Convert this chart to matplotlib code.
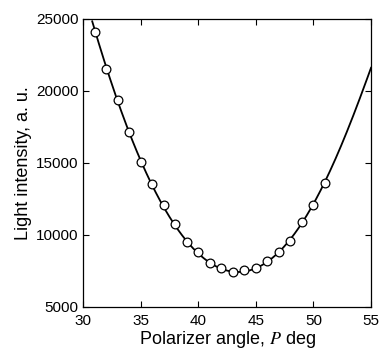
import numpy as np
import matplotlib
matplotlib.use("Agg")
import matplotlib.pyplot as plt

plt.rcParams['font.family'] = ['Liberation Sans', 'DejaVu Sans']
plt.rcParams['mathtext.fontset'] = 'stix'

# measured points
angle = [31, 32, 33, 34, 35, 36, 37, 38, 39, 40, 41, 42, 43, 44, 45, 46, 47, 48, 49, 50, 51]
intensity = [24100, 21530, 19380, 17130, 15090, 13520, 12080, 10770, 9490, 8800, 8080,
             7690, 7450, 7550, 7690, 8200, 8840, 9590, 10880, 12080, 13590]

# fitted curve
curve_angle = [30.8, 31, 33, 35, 37, 39, 41, 43, 45, 47, 49, 51, 52, 53, 54, 55]
curve_int = [25000, 24100, 19380, 15090, 12080, 9490, 8080, 7450, 7690, 8840, 10880,
             13590, 15440, 17400, 19490, 21575]

coef = np.polyfit(curve_angle, curve_int, 6)
xs = np.linspace(curve_angle[0], curve_angle[-1], 300)

fig = plt.figure(figsize=(3.79, 3.51), dpi=100)
ax = fig.add_axes([0.219, 0.1254, 0.760, 0.8205])
ax.plot(xs, np.polyval(coef, xs), color='black', lw=1.3, zorder=2)
ax.plot(angle, intensity, 'o', ms=6.3, mfc='white', mec='black', mew=0.9, zorder=3)

ax.set_xlim(30, 55)
ax.set_ylim(5000, 25000)
ax.set_xticks([30, 35, 40, 45, 50, 55])
ax.set_yticks([5000, 10000, 15000, 20000, 25000])
ax.tick_params(direction='in', top=True, right=True, labelsize=11, length=4, width=0.8)
ax.tick_params(axis='x', pad=5)
ax.tick_params(axis='y', pad=3)
for s in ax.spines.values():
    s.set_linewidth(0.9)
ax.set_xlabel('Polarizer angle, $P$ deg', fontsize=13, labelpad=1)
ax.set_ylabel('Light intensity, a. u.', fontsize=13, labelpad=3)

fig.savefig('out.png', dpi=100)
